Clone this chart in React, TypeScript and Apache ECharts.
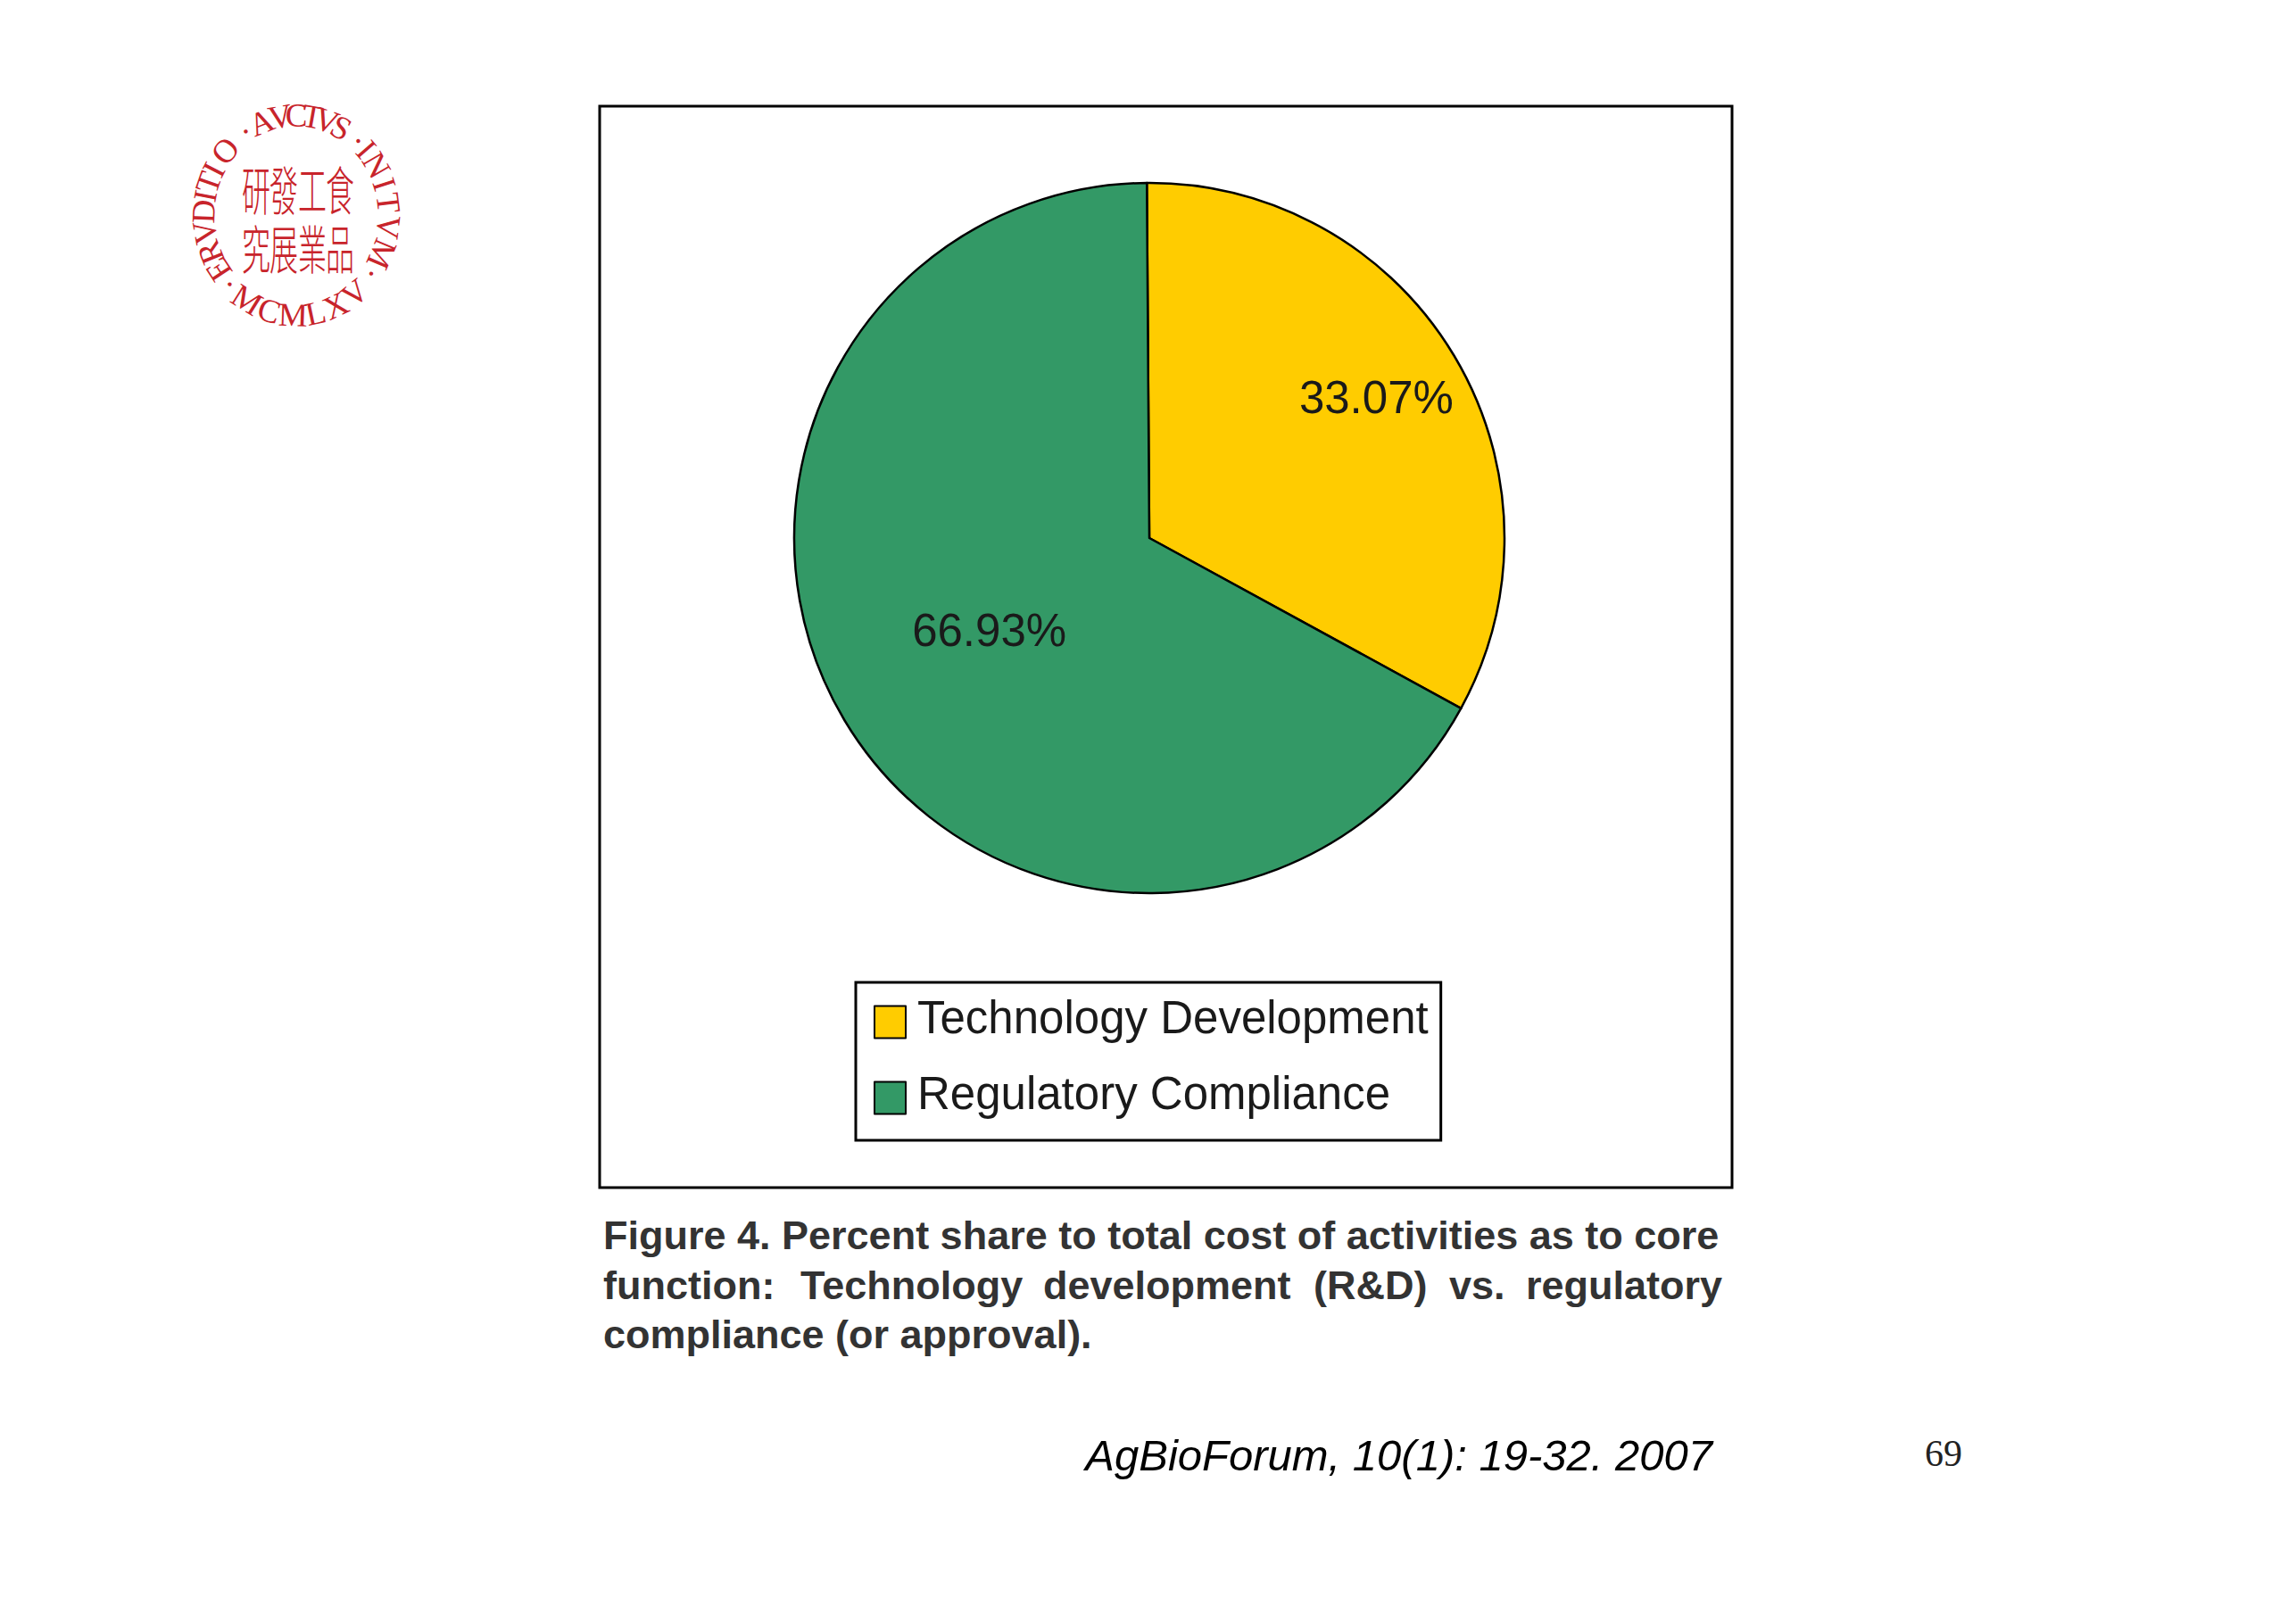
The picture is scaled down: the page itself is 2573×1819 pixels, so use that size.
import React, { useEffect, useRef } from "react";
import * as echarts from "echarts";

const categories = ["Technology Development", "Regulatory Compliance"];
const shares = [33.07, 66.93];
const sliceColors = ["#FFCC00", "#339966"];

const captionLine1 = "Figure 4. Percent share to total cost of activities as to core";
const captionLine2Words = ["function:", "Technology", "development", "(R&D)", "vs.", "regulatory"];
const captionLine3 = "compliance (or approval).";
const citation = "AgBioForum, 10(1): 19-32. 2007";
const pageNumber = "69";

const sealTopLetters = "ERVDITIO·AVCTVS·INITVM·".split("");
const sealTopAngles = [-123, -112, -100, -88, -79, -71, -63, -50, -33, -22, -10, 0, 10, 19, 29, 42, 49, 60, 72, 83, 97, 113, 126];
const sealBottomLetters = "MCMLXV".split("");
const sealBottomAngles = [-32, -17, -2, 12, 25, 39];
const sealDotAngle = -134;
const sealCharsTop = ["研", "發", "工", "食"];
const sealCharsBottom = ["究", "展", "業", "品"];

const RED = "#C8242B";
const SANS = '"Liberation Sans", Arial, sans-serif';
const SERIF = '"Liberation Serif", "Times New Roman", serif';

function sealGraphics() {
  const cx = 332, cy = 241, rx = 104, ry = 112;
  const items: any[] = [];
  const rad = (d: number) => (d * Math.PI) / 180;
  const letter = (t: string, x: number, y: number, rotation: number) => ({
    type: "text", x, y, rotation,
    style: { text: t, font: `400 37px ${SERIF}`, fill: RED, textAlign: "center", textVerticalAlign: "middle" },
  });
  sealTopLetters.forEach((t, i) => {
    const a = rad(sealTopAngles[i]);
    items.push(letter(t, cx + rx * Math.sin(a), cy - ry * Math.cos(a), -a));
  });
  sealBottomLetters.forEach((t, i) => {
    const b = rad(sealBottomAngles[i]);
    items.push(letter(t, cx + rx * Math.sin(b), cy + ry * Math.cos(b), b));
  });
  const d = rad(sealDotAngle);
  items.push(letter("·", cx + rx * Math.sin(d), cy - ry * Math.cos(d), -d));
  const colX = [287, 318, 350, 381];
  const han = (t: string, x: number, y: number) => ({
    type: "text", x, y, scaleY: 1.85,
    style: { text: t, font: `300 32px "Noto Sans CJK TC"`, fill: RED, textAlign: "center", textVerticalAlign: "middle" },
  });
  sealCharsTop.forEach((t, i) => items.push(han(t, colX[i], 210)));
  sealCharsBottom.forEach((t, i) => items.push(han(t, colX[i], 276)));
  return items;
}

function captionGraphics() {
  const items: any[] = [];
  const font = `700 45px ${SANS}`;
  const fill = "#333333";
  const text = (t: string, x: number, y: number) => ({
    type: "text", x, y,
    style: { text: t, font, fill, textAlign: "left", textVerticalAlign: "middle" },
  });
  items.push(text(captionLine1, 676, 1384));
  const wordX = [676, 897, 1169, 1472, 1624, 1710];
  captionLine2Words.forEach((w, i) => items.push(text(w, wordX[i], 1440)));
  items.push(text(captionLine3, 676, 1495));
  return items;
}

export default function App() {
  const ref = useRef<HTMLDivElement>(null);
  useEffect(() => {
    const chart = echarts.init(ref.current!, undefined, { renderer: "svg" });
    chart.setOption({
      animation: false,
      backgroundColor: "#ffffff",
      legend: {
        orient: "vertical",
        left: 959,
        top: 1101,
        data: categories,
        icon: "rect",
        itemWidth: 35,
        itemHeight: 36,
        itemGap: 34,
        padding: [14, 14, 27, 20],
        borderColor: "#000000",
        borderWidth: 3,
        backgroundColor: "#ffffff",
        itemStyle: { borderColor: "#000000", borderWidth: 2 },
        formatter: (name: string) => `{t|${name}}`,
        textStyle: {
          fontFamily: SANS,
          fontSize: 51,
          color: "#1a1a1a",
          padding: [0, 0, 0, 8],
          rich: { t: { fontFamily: SANS, fontSize: 51, color: "#1a1a1a", padding: [0, 0, 10, 0] } },
        },
      },
      series: [
        {
          type: "pie",
          center: [1288, 603],
          radius: [0, 398],
          startAngle: 90.4,
          clockwise: true,
          data: categories.map((name, i) => ({
            name,
            value: shares[i],
            itemStyle: { color: sliceColors[i] },
          })),
          itemStyle: { borderColor: "#000000", borderWidth: 2.5 },
          label: {
            show: true,
            position: "inside",
            fontFamily: SANS,
            fontSize: 51,
            color: "#1a1a1a",
            formatter: (p: any) => `${p.value.toFixed(2)}%`,
          },
          labelLine: { show: false },
          labelLayout: (p: any) =>
            p.dataIndex === 0 ? { dx: 81, dy: -54 } : { dx: -6, dy: 0 },
          emphasis: { disabled: true },
        },
      ],
      graphic: {
        elements: [
          {
            type: "rect",
            z: -1,
            shape: { x: 672, y: 119, width: 1269, height: 1212 },
            style: { fill: "#ffffff", stroke: "#000000", lineWidth: 3 },
          },
          ...sealGraphics(),
          ...captionGraphics(),
          {
            type: "text", x: 1919, y: 1631,
            style: { text: citation, font: `italic 400 49px ${SANS}`, fill: "#000000", textAlign: "right", textVerticalAlign: "middle" },
          },
          {
            type: "text", x: 2178, y: 1629,
            style: { text: pageNumber, font: `400 42px ${SERIF}`, fill: "#222222", textAlign: "center", textVerticalAlign: "middle" },
          },
        ],
      },
    });
    return () => chart.dispose();
  }, []);
  return (
    <div
      ref={ref}
      style={{ position: "absolute", left: 0, top: 0, width: 2573, height: 1819, background: "#fff" }}
    />
  );
}
